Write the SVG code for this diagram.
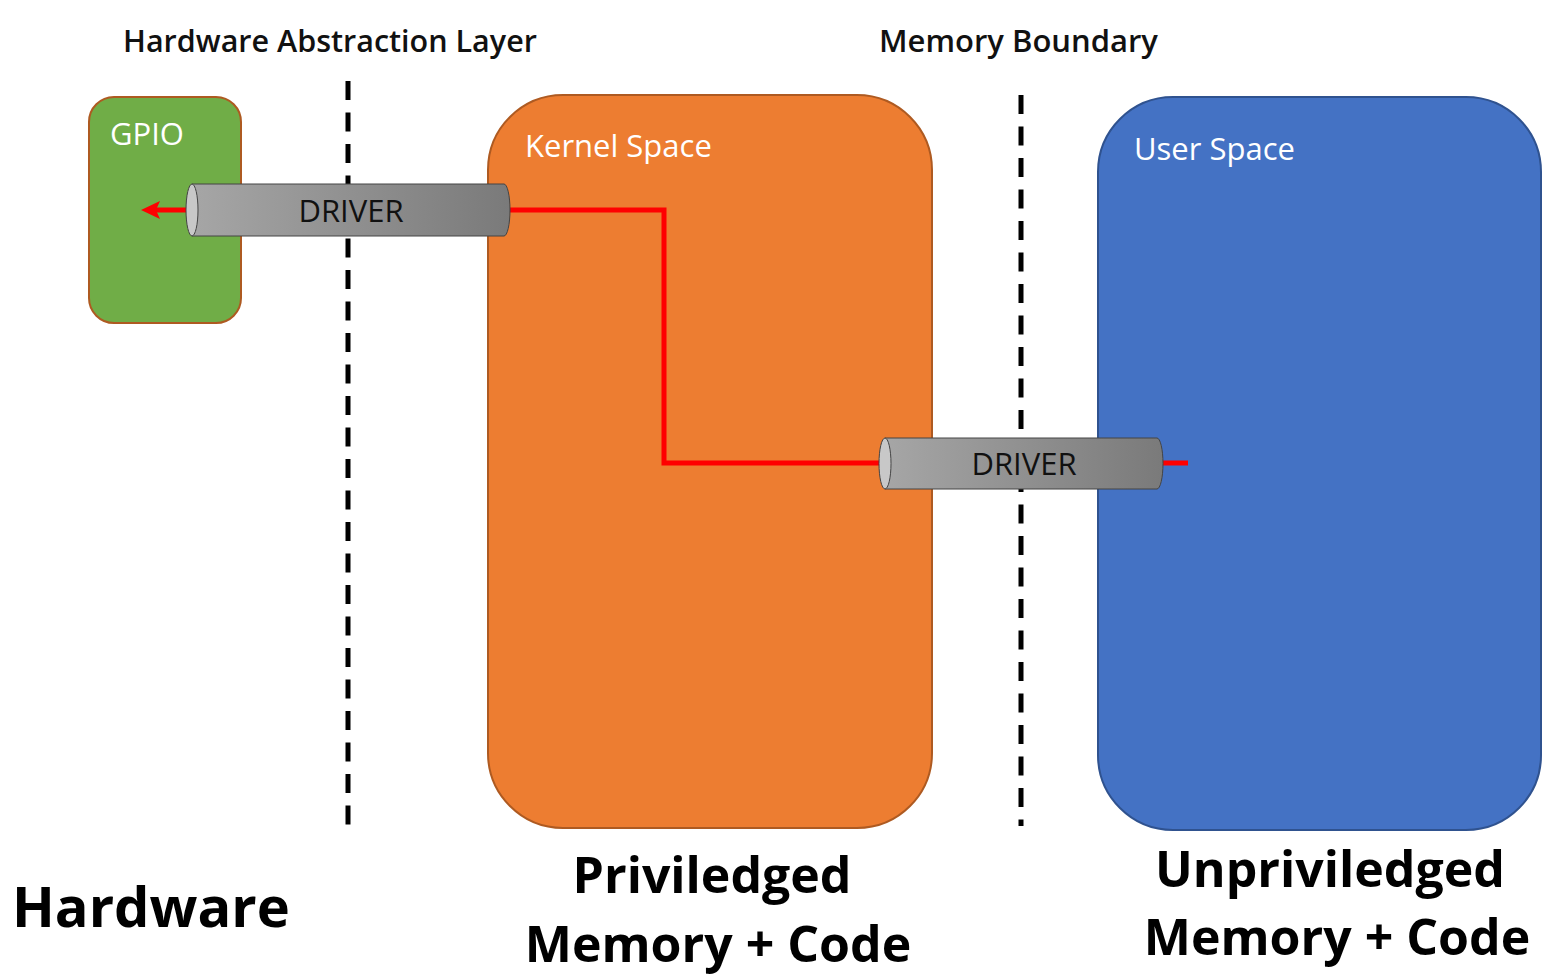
<svg xmlns="http://www.w3.org/2000/svg" width="1563" height="980" viewBox="0 0 1563 980">
<style>
.hdr{font-family:"Open Sans","Liberation Sans",sans-serif;font-weight:600;font-size:30.5px;fill:#111}
.lbl{font-family:"Open Sans","Liberation Sans",sans-serif;font-size:31px;fill:#fff}
.drv{font-family:"Open Sans","Liberation Sans",sans-serif;font-size:31px;fill:#111;text-anchor:middle}
.big{font-family:"Open Sans","Liberation Sans",sans-serif;font-weight:700;font-size:50px;fill:#000;text-anchor:middle}
.dash{stroke:#000;stroke-width:5;stroke-dasharray:19 12.5;fill:none}
.wire{stroke:#f00;stroke-width:5;fill:none}
.head{fill:#f00}
.cyl{fill:url(#cg);stroke:#444;stroke-width:1}
.cap{fill:#c8c8c8;stroke:#444;stroke-width:1}
</style>
<defs>
<linearGradient id="cg" x1="0" y1="0" x2="1" y2="0">
<stop offset="0" stop-color="#a6a6a6"/>
<stop offset="1" stop-color="#7a7a7a"/>
</linearGradient>
</defs>
<rect width="1563" height="980" fill="#fff"/>
<text class="hdr" x="123" y="52">Hardware Abstraction Layer</text>
<text class="hdr" x="879" y="52" style="font-size:31px">Memory Boundary</text>
<g id="gpio">
<rect x="89" y="97" width="152" height="226" rx="25" fill="#70ad47" stroke="#ae5a21" stroke-width="2"/>
<text class="lbl" x="110" y="145">GPIO</text>
</g>
<g id="kernel">
<rect x="488" y="95" width="444" height="733" rx="75" fill="#ed7d31" stroke="#ae5a21" stroke-width="2"/>
<text class="lbl" x="525" y="157">Kernel Space</text>
</g>
<g id="user">
<rect x="1098" y="97" width="443" height="733" rx="75" fill="#4472c4" stroke="#2f528f" stroke-width="2"/>
<text class="lbl" x="1134" y="160">User Space</text>
</g>
<g id="boundaries">
<line class="dash" x1="348" y1="81" x2="348" y2="825"/>
<line class="dash" x1="1021" y1="95" x2="1021" y2="826"/>
</g>
<g id="connectors">
<polyline class="wire" points="510,210 664,210 664,463 882,463"/>
<line class="wire" x1="1160" y1="463" x2="1188" y2="463"/>
<line class="wire" x1="190" y1="210" x2="154" y2="210"/>
<path class="head" d="M141,210 L160,201 L156,210 L160,219 Z"/>
</g>
<g id="driver1">
<path class="cyl" d="M192,184 H504 A6,26 0 0 1 504,236 H192 Z"/>
<ellipse class="cap" cx="192" cy="210" rx="6" ry="26"/>
<text class="drv" x="351" y="222">DRIVER</text>
</g>
<g id="driver2">
<path class="cyl" d="M885,438 H1157 A6,25.5 0 0 1 1157,489 H885 Z"/>
<ellipse class="cap" cx="885" cy="463.5" rx="6" ry="25.5"/>
<text class="drv" x="1024" y="475">DRIVER</text>
</g>
<g id="captions">
<text class="big" x="12" y="927" style="text-anchor:start;font-size:56px">Hardware</text>
<text class="big" x="712" y="893">Priviledged</text>
<text class="big" x="718" y="962">Memory + Code</text>
<text class="big" x="1330" y="887">Unpriviledged</text>
<text class="big" x="1337" y="955">Memory + Code</text>
</g>
</svg>
